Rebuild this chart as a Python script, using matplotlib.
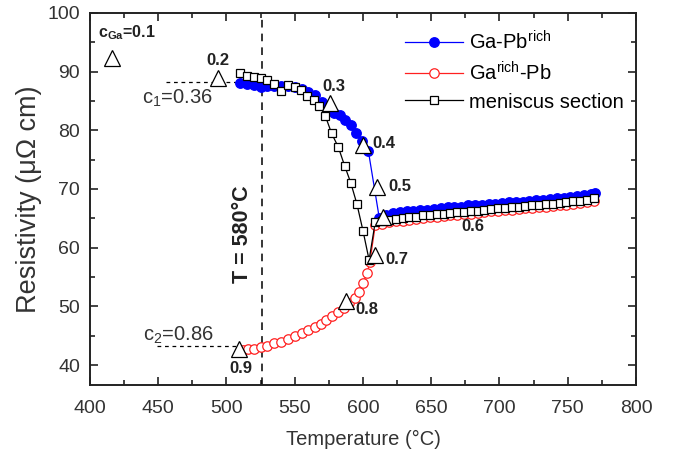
"""
Resistivity of Ga-Pb samples on heating, with the meniscus section and
composition markers along the miscibility gap.
"""

import matplotlib
matplotlib.use("Agg")
import matplotlib.pyplot as plt

plt.rcParams["font.family"] = ["Liberation Sans", "DejaVu Sans"]
plt.rcParams["mathtext.fontset"] = "custom"
plt.rcParams["mathtext.rm"] = "Liberation Sans"
plt.rcParams["mathtext.it"] = "Liberation Sans:italic"
plt.rcParams["mathtext.bf"] = "Liberation Sans:bold"

# Ga-Pb(rich) sample, filled blue circles
pb_rich_t = [510, 515, 520, 525, 530, 535, 540, 545, 550, 555, 560, 565, 570,
             575, 579, 583, 587, 591, 595, 599.5, 604,
             612, 617, 622, 627, 632, 637, 642, 647, 652, 657, 662, 667, 672,
             677, 682, 687, 692, 697, 702, 707, 712, 717, 722, 727, 732, 737,
             742, 747, 752, 757, 762, 767, 770]
pb_rich_r = [88.0, 87.9, 87.8, 87.4, 87.5, 87.5, 87.6, 87.6, 87.3, 87.0, 86.6,
             86.0, 84.8, 83.6, 83.0, 82.6, 81.8, 80.9, 79.6, 78.2, 76.4,
             65.0, 65.6, 65.9, 66.0, 66.2, 66.2, 66.4, 66.5, 66.6, 66.7, 66.9,
             66.9, 67.0, 67.2, 67.2, 67.3, 67.5, 67.5, 67.6, 67.7, 67.8, 67.8,
             67.9, 68.1, 68.2, 68.3, 68.4, 68.5, 68.6, 68.8, 68.9, 69.1, 69.3]

# Ga(rich)-Pb sample, open red circles
ga_rich_t = [512, 516, 520, 525, 530, 535, 540, 545, 550, 555, 560, 565, 569,
             573, 577.5, 582, 586, 590, 594, 597, 600, 603, 605, 609,
             614, 619, 624, 629, 634, 639, 644, 649, 654, 659, 664, 669, 674,
             679, 684, 689, 694, 699, 704, 709, 714, 719, 724, 729, 734, 739,
             744, 749, 754, 759, 764, 769]
ga_rich_r = [42.6, 42.7, 42.8, 43.0, 43.2, 43.7, 44.0, 44.4, 44.9, 45.4, 45.9,
             46.5, 47.0, 47.7, 48.3, 49.1, 49.8, 50.6, 51.5, 52.5, 54.0, 55.6,
             57.5, 63.8,
             64.1, 64.3, 64.5, 64.6, 64.8, 64.9, 65.1, 65.2, 65.3, 65.4, 65.5,
             65.6, 65.7, 65.8, 65.9, 66.0, 66.2, 66.3, 66.4, 66.5, 66.6, 66.7,
             66.8, 66.9, 67.0, 67.1, 67.2, 67.3, 67.5, 67.6, 67.7, 67.9]

# meniscus section, open black squares
meniscus_t = [510, 515, 520, 525, 530, 534.5, 540, 545, 550, 554.5, 559, 564,
              568, 572.5, 577, 582, 586.5, 591, 595.5, 600, 604.5,
              609, 614, 619, 624, 629, 634, 639, 644, 649, 654, 659, 664, 669,
              674, 679, 684, 689, 694, 699, 704, 709, 714, 719, 724, 729, 734,
              739, 744, 749, 754, 759, 764, 769]
meniscus_r = [89.7, 89.2, 89.1, 89.0, 88.6, 87.9, 86.7, 87.7, 87.4, 86.8, 85.9,
              85.1, 84.2, 82.4, 79.5, 77.1, 74.0, 71.1, 67.5, 62.9, 57.9,
              64.4, 64.6, 64.7, 64.9, 65.0, 65.2, 65.3, 65.5, 65.6, 65.7, 65.8,
              65.9, 66.0, 66.1, 66.2, 66.3, 66.4, 66.6, 66.7, 66.8, 66.9, 67.0,
              67.1, 67.2, 67.3, 67.4, 67.5, 67.6, 67.7, 67.9, 68.0, 68.2, 68.4]

# composition markers c_Ga along the gap
marker_t = [416, 493.5, 576, 600, 610.5, 615, 609, 587.5, 509]
marker_r = [92.4, 89.0, 84.6, 77.5, 70.4, 65.3, 58.8, 50.9, 42.7]
marker_text = ["0.2", "0.3", "0.4", "0.5", "0.6", "0.7", "0.8", "0.9"]
# label anchor (x, y, ha) for 0.2 ... 0.9
label_pos = [(494, 91.9, "center"), (579, 87.5, "center"), (607, 77.8, "left"),
             (618.5, 70.5, "left"), (680.5, 63.6, "center"),
             (616.5, 57.9, "left"), (594.5, 49.4, "left"), (510.5, 39.4, "center")]

t_line = 526
c1, c1_r = 0.36, 88.3
c2, c2_r = 0.86, 43.3

fig = plt.figure(figsize=(6.78, 4.68), dpi=100)
ax = fig.add_axes([0.1327, 0.1774, 0.8053, 0.7949])

ax.plot(pb_rich_t, pb_rich_r, "-o", color="#0000ff", lw=0.9, ms=6.8,
        mfc="#0000ff", mec="#0000ff", label=r"Ga-Pb$^{\mathrm{rich}}$", zorder=3)
ax.plot(ga_rich_t, ga_rich_r, "-o", color="#ff2020", lw=0.9, ms=6.8,
        mfc="white", mec="#ff2020", mew=0.9, label=r"Ga$^{\mathrm{rich}}$-Pb",
        zorder=4)
ax.plot(meniscus_t, meniscus_r, "-s", color="black", lw=0.9, ms=6.3,
        mfc="white", mec="black", mew=0.9, label="meniscus section", zorder=5)

ax.plot(marker_t, marker_r, "^", ls="none", ms=11, mfc="white", mec="black",
        mew=0.9, zorder=6)

ax.axvline(t_line, color="black", lw=1.1, dashes=(5, 4), zorder=2)
ax.plot([456, t_line], [c1_r, c1_r], color="black", lw=0.9, dashes=(3, 3), zorder=2)
ax.plot([449, t_line], [c2_r, c2_r], color="black", lw=0.9, dashes=(3, 3), zorder=2)

ax.text(406, 96.6, r"$\mathbf{c_{Ga}}$=0.1", fontsize=11.5, fontweight="bold",
        color="#222222", ha="left", va="center")
for txt, (x, y, ha) in zip(marker_text, label_pos):
    ax.text(x, y, txt, fontsize=12, fontweight="bold", color="#222222",
            ha=ha, va="center", zorder=7)

ax.text(490, 85.5, "c$_1$=%.2f" % c1, fontsize=14.5, color="#333333",
        ha="right", va="center")
ax.text(491, 45.1, "c$_2$=%.2f" % c2, fontsize=14.5, color="#333333",
        ha="right", va="center")
ax.text(512, 62.3, "T = 580°C", fontsize=15.5, fontweight="bold",
        color="#222222", rotation=90, ha="center", va="center")

ax.set_xlim(400, 800)
ax.set_ylim(36.6, 100)
ax.set_xticks(range(400, 801, 50))
ax.set_xticks(range(425, 800, 50), minor=True)
ax.set_yticks(range(40, 101, 10))
ax.set_yticks(range(45, 100, 10), minor=True)
ax.tick_params(which="both", direction="in", top=True, right=True,
               labelsize=14, width=1.2, colors="#222222", labelcolor="#333333")
ax.tick_params(which="major", length=6)
ax.tick_params(axis="x", which="major", pad=11)
ax.tick_params(axis="y", which="major", pad=7)
ax.tick_params(which="minor", length=3.5)
for spine in ax.spines.values():
    spine.set_linewidth(1.4)
    spine.set_color("#222222")

ax.set_xlabel("Temperature (°C)", fontsize=14.5, color="#333333", labelpad=9)
ax.set_ylabel("Resistivity (μΩ cm)", fontsize=19.5, color="#333333", labelpad=4)

ax.legend(loc="upper left", bbox_to_anchor=(405 / 678, 1 - 30 / 468),
          bbox_transform=fig.transFigure, frameon=False, fontsize=14.5,
          handlelength=2.9, handletextpad=0.3, labelspacing=0.4,
          borderpad=0, borderaxespad=0)

fig.savefig("out.png", dpi=100)
